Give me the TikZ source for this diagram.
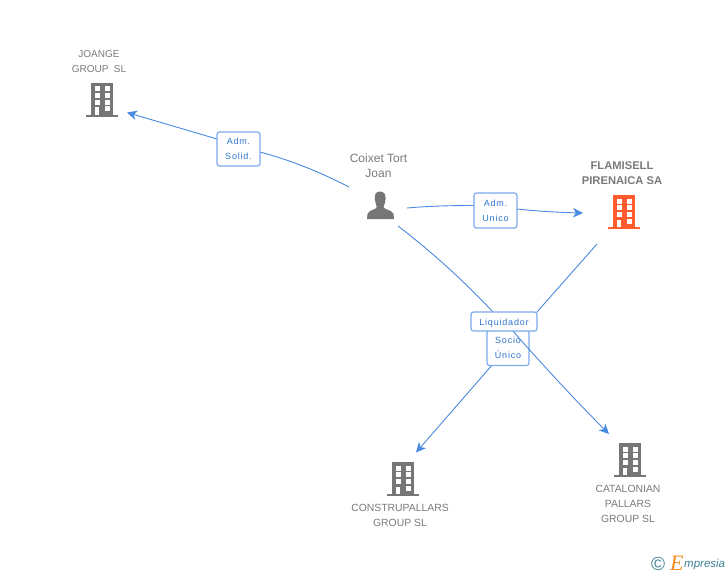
\documentclass[tikz,border=0pt]{standalone}
\usepackage{fontspec}
\setmainfont{Liberation Sans}
\newfontfamily\labfont[LetterSpace=9]{Liberation Sans}
\newfontfamily\serifE{Liberation Serif}
\usetikzlibrary{arrows.meta}
\definecolor{linkblue}{HTML}{4A8AE0}
\definecolor{boxblue}{HTML}{7DAAEE}
\definecolor{labblue}{HTML}{2F74D0}
\definecolor{icongrey}{HTML}{767676}
\definecolor{textgrey}{HTML}{7A7A7A}
\definecolor{flame}{HTML}{FF5B2E}
\definecolor{logoteal}{HTML}{3F8296}
\definecolor{logoorange}{HTML}{F08A1E}
\tikzset{
  link/.style={draw=linkblue,line width=0.9pt},
  tip/.style={-{Stealth[length=10pt,width=9.5pt,inset=3pt]}},
  labelbox/.style={draw=boxblue,line width=1.2pt,rounded corners=2.5pt,fill=white,inner sep=0pt,
    font=\fontsize{9}{15}\selectfont\labfont,text=labblue,align=center,
    execute at begin node={\rule{0pt}{9.5pt}}},
  caption/.style={font=\fontsize{10.4}{15}\selectfont,text=textgrey,align=center,inner sep=0pt},
  captionb/.style={font=\fontsize{11.2}{15}\selectfont\bfseries,text=textgrey,align=center,inner sep=0pt},
  iconnode/.style={minimum width=32pt,minimum height=34pt,inner sep=0pt}
}
% building glyph around centre (#1,#2), colour #3
\newcommand{\bldg}[3]{%
  \begin{scope}[shift={(#1,#2)}]
    \fill[#3] (-11,-17) rectangle (11,15);
    \fill[#3] (-16,15) rectangle (16,17.3);
    \fill[white] (-7,-13.5) rectangle (-2,-8.5);
    \fill[white] (3,-13.5) rectangle (7.8,-8.5);
    \fill[white] (-7,-6.9) rectangle (-2,-1.9);
    \fill[white] (3,-6.9) rectangle (7.8,-1.9);
    \fill[white] (-7,-0.2) rectangle (-2,4.8);
    \fill[white] (3,-0.2) rectangle (7.8,4.8);
    \fill[white] (-7,7.5) rectangle (-2.8,15);
    \fill[white] (3,6.5) rectangle (7.8,11.5);
  \end{scope}}
\begin{document}
\begin{tikzpicture}[x=1pt,y=-1pt]
\useasboundingbox (0,0) rectangle (728,575);
\fill[white] (0,0) rectangle (728,575);

\node[iconnode] (joange) at (102,100) {};
\node[iconnode] (flamisell) at (624,212) {};
\node[iconnode] (constru) at (403,479) {};
\node[iconnode] (catalonian) at (630,460) {};
\node[iconnode] (coixet) at (380,205) {};

\bldg{102}{100}{icongrey}
\bldg{624}{212}{flame}
\bldg{403}{479}{icongrey}
\bldg{630}{460}{icongrey}

% person glyph
\fill[icongrey] (380,191.5) .. controls (375.5,191.5) and (374.5,195) .. (374.8,199)
  .. controls (375,202.5) and (376.5,205) .. (376.8,207)
  .. controls (376.8,209.5) and (368.5,210) .. (367.5,214)
  -- (367,219) -- (394,219) -- (393.5,214)
  .. controls (392.5,210) and (383.5,209.5) .. (383.5,207)
  .. controls (384,205) and (385.5,202.5) .. (385.6,199)
  .. controls (385.8,195) and (384.5,191.5) .. (380,191.5) -- cycle;

% captions
\node[caption,font=\fontsize{10}{15}\selectfont] (capj) at (99,62) {JOANGE\\GROUP\ \ SL};
\node[caption,font=\fontsize{12}{15}\selectfont] (capc) at (378.5,165.5) {Coixet Tort\\Joan};
\node[captionb] (capf) at (622,173.5) {FLAMISELL\\PIRENAICA SA};
\node[caption] (capk) at (400,515.5) {CONSTRUPALLARS\\GROUP SL};
\node[caption] (capl) at (628,504) {CATALONIAN\\PALLARS\\GROUP SL};

% free ends of connectors
\coordinate (s1) at (349,187);
\coordinate (e1) at (127,112.5);
\coordinate (s2) at (407,208);
\coordinate (e2) at (583,213);
\coordinate (s3) at (597,244);
\coordinate (e3) at (416,452.5);
\coordinate (s4) at (398,226);
\coordinate (e4) at (609,434);
\coordinate (solidR) at (260,152);
\coordinate (solidL) at (217,139);
\coordinate (unicoL) at (474,205.5);
\coordinate (unicoR) at (517,209);
\coordinate (liqtop) at (537,312);
\coordinate (liqtopL) at (493,312);
\coordinate (liqbot) at (512,330);
\coordinate (socbot) at (493,364);

\draw[link] (s1) .. controls (320,172) and (290,160) .. (solidR);
\draw[link,tip] (solidL) -- (e1);
\draw[link] (s2) .. controls (430,206) and (452,205.5) .. (unicoL);
\draw[link,tip] (unicoR) .. controls (540,211.5) and (562,212.5) .. (e2);

\node[labelbox,minimum width=43pt,minimum height=34pt] (solid) at (238.5,149) {Adm.\\Solid.};
\node[labelbox,minimum width=43pt,minimum height=35pt] (unico) at (495.5,210.5) {Adm.\\Unico};

\draw[link] (s3) -- (liqtop);
\draw[link,tip] (socbot) -- (e3);
\node[labelbox,minimum width=42pt,minimum height=35pt] (socio) at (508,348) {Socio\\Único};
\draw[link] (s4) .. controls (432,252) and (465,282) .. (liqtopL);
\draw[link,tip] (liqbot) .. controls (540,362) and (575,400) .. (e4);
\node[labelbox,minimum width=66pt,minimum height=19pt] (liq) at (504,321.5) {Liquidador};

% logo
\node[inner sep=0pt,text=logoteal,font=\fontsize{19}{19}\selectfont] (copy) at (658,564) {©};
\node[inner sep=0pt,anchor=base west,text=logoorange,font=\fontsize{22}{22}\selectfont\serifE\itshape] (elogo) at (670,570) {E};
\node[inner sep=0pt,anchor=base west,text=logoteal,font=\fontsize{11.5}{12}\selectfont\itshape] (mpresia) at (684,567.5) {mpresia};
\end{tikzpicture}
\end{document}
